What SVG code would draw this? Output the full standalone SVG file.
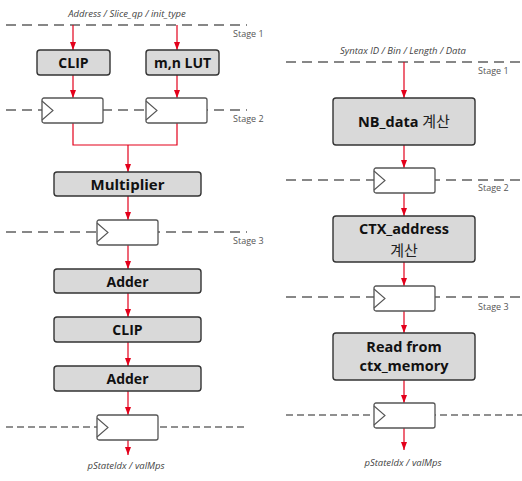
<svg xmlns="http://www.w3.org/2000/svg" width="522" height="481" viewBox="0 0 522 481">
  <defs>
    <marker id="ah" viewBox="0 0 8 6" refX="8" refY="3" markerWidth="8" markerHeight="6" markerUnits="userSpaceOnUse" orient="auto">
      <path d="M0,0 L8,3 L0,6 Z" fill="#e3001b"/>
    </marker>
    <g id="reg">
      <rect x="0" y="0" width="61" height="25" rx="2" fill="#fff" stroke="#555" stroke-width="1.3"/>
      <path d="M0,3 L11,12.5 L0,22" fill="none" stroke="#555" stroke-width="1.1"/>
    </g>
  </defs>
  <style>
    .stage { stroke: #606060; stroke-width: 1.5; stroke-dasharray: 10 6; fill: none; }
    .stage-end { stroke: #222; stroke-width: 1.2; stroke-dasharray: 7 4; fill: none; }
    .wire { stroke: #e3001b; stroke-width: 1.2; fill: none; }
    .arrow { stroke: #e3001b; stroke-width: 1.2; fill: none; marker-end: url(#ah); }
    .box { fill: #d9d9d9; stroke: #333; stroke-width: 1.4; }
    .lbl { font-family: "Open Sans", "Noto Sans CJK KR", sans-serif; font-weight: bold; fill: #111; text-anchor: middle; }
    .kr { font-family: "Noto Sans CJK KR", sans-serif; font-weight: normal; fill: #222; text-anchor: middle; }
    .io { font-family: "Open Sans", sans-serif; font-style: italic; font-size: 9.5px; fill: #444; text-anchor: middle; }
    .st { font-family: "Open Sans", sans-serif; font-size: 9px; fill: #555; }
  </style>

  <!-- pipeline stage boundaries -->
  <g id="stages">
    <line class="stage" x1="6" y1="25" x2="247" y2="25"/>
    <line class="stage" x1="6" y1="110" x2="247" y2="110"/>
    <line class="stage" x1="6" y1="232" x2="247" y2="232"/>
    <line class="stage-end" x1="6" y1="427" x2="247" y2="427"/>
    <line class="stage" x1="286" y1="62" x2="522" y2="62"/>
    <line class="stage" x1="286" y1="180" x2="522" y2="180"/>
    <line class="stage" x1="286" y1="297" x2="522" y2="297"/>
    <line class="stage-end" x1="286" y1="415" x2="522" y2="415"/>
    <text class="st" x="233" y="37">Stage 1</text>
    <text class="st" x="233" y="122">Stage 2</text>
    <text class="st" x="233" y="244">Stage 3</text>
    <text class="st" x="478" y="74">Stage 1</text>
    <text class="st" x="478" y="191">Stage 2</text>
    <text class="st" x="478" y="310">Stage 3</text>
  </g>

  <!-- connectors -->
  <g id="connectors">
    <!-- left pipeline -->
    <line class="arrow" x1="73" y1="25" x2="73" y2="50"/>
    <line class="arrow" x1="177" y1="25" x2="177" y2="50"/>
    <line class="arrow" x1="73" y1="75" x2="73" y2="98"/>
    <line class="arrow" x1="177" y1="75" x2="177" y2="98"/>
    <path class="wire" d="M73,123 V145 H177 V123"/>
    <line class="arrow" x1="128" y1="145" x2="128" y2="172"/>
    <line class="arrow" x1="128" y1="196" x2="128" y2="220"/>
    <line class="arrow" x1="128" y1="245" x2="128" y2="269"/>
    <line class="arrow" x1="128" y1="293" x2="128" y2="317"/>
    <line class="arrow" x1="128" y1="342" x2="128" y2="366"/>
    <line class="arrow" x1="128" y1="391" x2="128" y2="415"/>
    <line class="arrow" x1="128" y1="440" x2="128" y2="455"/>
    <!-- right pipeline -->
    <line class="arrow" x1="404" y1="62" x2="404" y2="98"/>
    <line class="arrow" x1="404" y1="145" x2="404" y2="168"/>
    <line class="arrow" x1="404" y1="193" x2="404" y2="216"/>
    <line class="arrow" x1="404" y1="262" x2="404" y2="286"/>
    <line class="arrow" x1="404" y1="311" x2="404" y2="333"/>
    <line class="arrow" x1="404" y1="380" x2="404" y2="403"/>
    <line class="arrow" x1="404" y1="428" x2="404" y2="450"/>
  </g>

  <!-- left pipeline nodes -->
  <text id="in-left" class="io" x="127" y="17">Address / Slice_qp / init_type</text>
  <g id="clip1">
    <rect class="box" x="37" y="50" width="73" height="25" rx="3"/>
    <text class="lbl" x="73.5" y="67.5" font-size="14">CLIP</text>
  </g>
  <g id="mnlut">
    <rect class="box" x="146" y="50" width="73" height="25" rx="3"/>
    <text class="lbl" x="182.5" y="67.5" font-size="14">m,n LUT</text>
  </g>
  <g id="reg-l1"><use href="#reg" x="42" y="98"/></g>
  <g id="reg-l2"><use href="#reg" x="146" y="98"/></g>
  <g id="multiplier">
    <rect class="box" x="54" y="172" width="147" height="24" rx="3"/>
    <text class="lbl" x="127.5" y="189.5" font-size="15">Multiplier</text>
  </g>
  <g id="reg-l3"><use href="#reg" x="97" y="220"/></g>
  <g id="adder1">
    <rect class="box" x="54" y="269" width="147" height="24" rx="3"/>
    <text class="lbl" x="127.5" y="286.5" font-size="14">Adder</text>
  </g>
  <g id="clip2">
    <rect class="box" x="54" y="317" width="147" height="25" rx="3"/>
    <text class="lbl" x="127.5" y="334.5" font-size="14">CLIP</text>
  </g>
  <g id="adder2">
    <rect class="box" x="54" y="366" width="147" height="25" rx="3"/>
    <text class="lbl" x="127.5" y="383.5" font-size="14">Adder</text>
  </g>
  <g id="reg-l4"><use href="#reg" x="97" y="415"/></g>
  <text id="out-left" class="io" x="126" y="469">pStateIdx / valMps</text>

  <!-- right pipeline nodes -->
  <text id="in-right" class="io" x="403" y="54">Syntax ID / Bin / Length / Data</text>
  <g id="nbdata">
    <rect class="box" x="333" y="98" width="142" height="47" rx="3"/>
    <text class="lbl" x="404" y="127" font-size="14.5">NB_data <tspan class="kr" font-size="15">계산</tspan></text>
  </g>
  <g id="reg-r1"><use href="#reg" x="374" y="168"/></g>
  <g id="ctxaddr">
    <rect class="box" x="333" y="216" width="142" height="46" rx="3"/>
    <text class="lbl" x="404" y="234" font-size="14.5">CTX_address</text>
    <text class="kr" x="404" y="256" font-size="15">계산</text>
  </g>
  <g id="reg-r2"><use href="#reg" x="374" y="286"/></g>
  <g id="readmem">
    <rect class="box" x="333" y="333" width="142" height="47" rx="3"/>
    <text class="lbl" x="404" y="352" font-size="14.5">Read from</text>
    <text class="lbl" x="404" y="371" font-size="14.5">ctx_memory</text>
  </g>
  <g id="reg-r3"><use href="#reg" x="374" y="403"/></g>
  <text id="out-right" class="io" x="403" y="466">pStateIdx / valMps</text>
</svg>
